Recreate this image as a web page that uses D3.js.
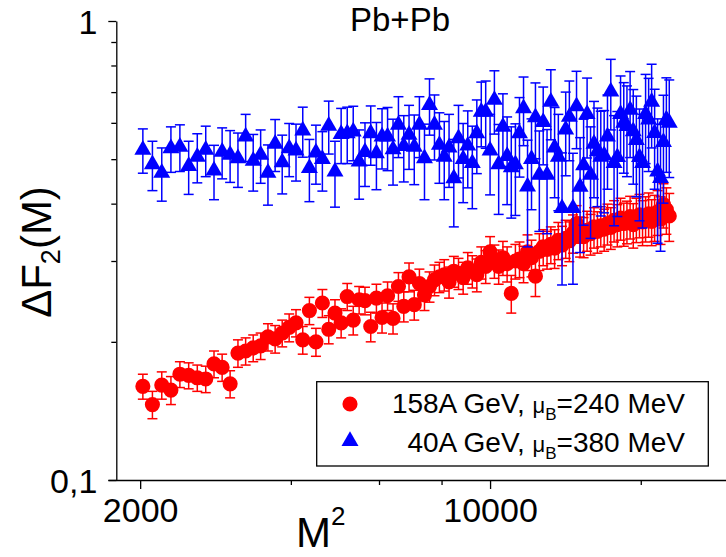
<!DOCTYPE html>
<html><head><meta charset="utf-8">
<script src="https://cdn.jsdelivr.net/npm/d3@7"></script>
<style>
body{margin:0;background:#fff;}
svg{display:block;font-family:"Liberation Sans",Arial,sans-serif;}
</style></head>
<body>
<svg id="chart" width="726" height="557"></svg>
<script>
// ---- data ----
// bin number M (x value plotted is M^2)
const binsM = [45,46,47,48,49,50,51,52,53,54,55,56,57,58,59,60,61,62,63,64,65,66,67,68,69,70,71,72,73,74,75,76,77,78,79,80,81,82,83,84,85,86,87,88,89,90,91,92,93,94,95,96,97,98,99,100,101,102,103,104,105,106,107,108,109,110,111,112,113,114,115,116,117,118,119,120,121,122,123,124,125,126,127,128,129,130,131,132,133,134,135,136,137,138,139,140,141,142,143,144,145,146,147,148,149,150,151];
const red158 = [
0.160,0.146,0.161,0.157,0.170,0.169,0.167,0.166,0.179,0.176,
0.162,0.189,0.191,0.194,0.196,0.205,0.203,0.209,0.215,0.220,
0.202,0.234,0.200,0.243,0.213,0.231,0.220,0.251,0.223,0.247,
0.246,0.216,0.249,0.226,0.252,0.225,0.264,0.239,0.277,0.241,
0.268,0.253,0.264,0.273,0.277,0.280,0.270,0.285,0.282,0.276,
0.290,0.285,0.280,0.298,0.292,0.314,0.300,0.292,0.305,0.296,
0.255,0.300,0.303,0.296,0.314,0.305,0.278,0.315,0.322,0.318,
0.326,0.320,0.333,0.325,0.336,0.332,0.345,0.362,0.340,0.339,
0.350,0.344,0.356,0.348,0.358,0.352,0.362,0.355,0.368,0.360,
0.372,0.362,0.366,0.375,0.360,0.370,0.378,0.365,0.372,0.380,
0.366,0.374,0.384,0.370,0.398,0.388,0.376];
const red158Err = [
0.010,0.010,0.011,0.011,0.011,0.011,0.011,0.011,0.012,0.012,
0.011,0.013,0.013,0.013,0.013,0.014,0.014,0.014,0.015,0.015,
0.014,0.016,0.014,0.017,0.015,0.016,0.016,0.017,0.016,0.017,
0.017,0.016,0.018,0.017,0.018,0.017,0.019,0.018,0.020,0.018,
0.020,0.019,0.020,0.021,0.021,0.022,0.021,0.022,0.022,0.022,
0.023,0.023,0.023,0.024,0.024,0.025,0.025,0.025,0.026,0.026,
0.024,0.026,0.027,0.027,0.028,0.028,0.027,0.029,0.029,0.030,
0.030,0.031,0.031,0.032,0.032,0.033,0.033,0.034,0.034,0.034,
0.035,0.035,0.036,0.036,0.036,0.037,0.037,0.037,0.038,0.038,
0.039,0.039,0.039,0.040,0.040,0.041,0.041,0.041,0.042,0.042,
0.042,0.043,0.043,0.044,0.044,0.045,0.045];
const blue40 = [
0.524,0.487,0.467,0.528,0.532,0.483,0.506,0.524,0.472,0.519,
0.511,0.502,0.560,0.496,0.511,0.467,0.540,0.492,0.528,0.522,
0.577,0.478,0.517,0.500,0.591,0.470,0.567,0.569,0.574,0.494,
0.518,0.569,0.515,0.560,0.560,0.525,0.594,0.534,0.565,0.532,
0.594,0.502,0.656,0.594,0.537,0.506,0.530,0.454,0.555,0.500,
0.535,0.490,0.569,0.634,0.634,0.522,0.673,0.487,0.588,0.508,
0.480,0.487,0.569,0.645,0.436,0.500,0.617,0.462,0.602,0.462,
0.667,0.530,0.506,0.391,0.580,0.618,0.391,0.652,0.435,0.485,
0.627,0.462,0.540,0.520,0.506,0.510,0.560,0.702,0.490,0.505,
0.627,0.600,0.590,0.640,0.575,0.550,0.505,0.490,0.627,0.610,
0.667,0.570,0.470,0.455,0.545,0.610,0.600];
const blue40Err = [
0.058,0.060,0.062,0.060,0.062,0.064,0.062,0.066,0.064,0.066,
0.066,0.068,0.066,0.070,0.068,0.070,0.070,0.072,0.070,0.074,
0.072,0.074,0.076,0.074,0.078,0.077,0.078,0.080,0.078,0.085,
0.082,0.084,0.086,0.084,0.088,0.086,0.090,0.088,0.090,0.092,
0.090,0.094,0.092,0.096,0.094,0.098,0.096,0.098,0.100,0.098,
0.102,0.100,0.104,0.102,0.106,0.104,0.106,0.108,0.106,0.110,
0.108,0.110,0.112,0.110,0.114,0.112,0.116,0.114,0.116,0.118,
0.116,0.118,0.120,0.125,0.120,0.122,0.124,0.125,0.122,0.126,
0.124,0.126,0.128,0.126,0.130,0.128,0.130,0.123,0.132,0.130,
0.132,0.134,0.132,0.136,0.134,0.136,0.138,0.136,0.138,0.140,
0.138,0.140,0.142,0.140,0.144,0.142,0.144];
const xMajorTicks = [2000, 10000];
const xMajorLabels = ["2000", "10000"];
const xMinorTicks = [4000, 6000, 8000, 20000];
const yMajorTicks = [0.1, 1];
const yMajorLabels = ["0,1", "1"];
const yMinorTicks = [0.2, 0.3, 0.4, 0.5, 0.6, 0.7, 0.8, 0.9];
const legendLabels = [
  {pre: "158A GeV, ", sub: "B", post: "=240 MeV"},
  {pre: "40A GeV, ", sub: "B", post: "=380 MeV"}
];
const titleText = "Pb+Pb";

// ---- scales ----
const svg = d3.select("#chart");
const x = d3.scaleLog().domain([1725, 29600]).range([108, 726]);
const y = d3.scaleLog().domain([0.1, 1]).range([480, 21]);
const axisX0 = 116.3;

const redData = binsM.map((m, i) => ({x: m * m, v: red158[i], e: red158Err[i]}));
const blueData = binsM.map((m, i) => ({x: m * m, v: blue40[i], e: blue40Err[i]}));

// ---- axes ----
const gx = svg.append("g").attr("transform", "translate(0,480)");
gx.call(d3.axisBottom(x).tickValues(xMinorTicks).tickSize(5).tickSizeOuter(0).tickFormat(""));
const gx2 = svg.append("g").attr("transform", "translate(0,480)");
gx2.call(d3.axisBottom(x).tickValues(xMajorTicks).tickSize(9).tickSizeOuter(0)
  .tickFormat((d, i) => xMajorLabels[i]));
gx2.select(".domain").remove();
[gx, gx2].forEach(g => {
  g.selectAll("path,line").attr("stroke", "#000").attr("stroke-width", 1.3);
});
gx2.selectAll("text").attr("font-size", 34).attr("font-family", "Liberation Sans, Arial, sans-serif")
  .attr("fill", "#000").attr("dy", null).attr("y", 42);

const gy = svg.append("g").attr("transform", `translate(${axisX0},0)`);
gy.call(d3.axisLeft(y).tickValues(yMinorTicks).tickSize(5).tickSizeOuter(0).tickFormat(""));
const gy2 = svg.append("g").attr("transform", `translate(${axisX0},0)`);
gy2.call(d3.axisLeft(y).tickValues(yMajorTicks).tickSize(8).tickSizeOuter(0)
  .tickFormat((d, i) => yMajorLabels[i]));
gy2.select(".domain").remove();
[gy, gy2].forEach(g => {
  g.selectAll("path,line").attr("stroke", "#000").attr("stroke-width", 1.3);
});
gy2.selectAll("text").attr("font-size", 34).attr("font-family", "Liberation Sans, Arial, sans-serif")
  .attr("fill", "#000").attr("x", -19).attr("dy", null).attr("y", 12);

// ---- error bars + markers ----
function drawSeries(data, color, marker) {
  const g = svg.append("g");
  const eb = g.selectAll("g.eb").data(data).join("g").attr("class", "eb")
    .attr("stroke", color).attr("stroke-width", 1.5).attr("fill", "none");
  eb.append("line")
    .attr("x1", d => x(d.x)).attr("x2", d => x(d.x))
    .attr("y1", d => y(d.v + d.e)).attr("y2", d => y(Math.max(d.v - d.e, 0.1001)));
  eb.append("line")
    .attr("x1", d => x(d.x) - 5).attr("x2", d => x(d.x) + 5)
    .attr("y1", d => y(d.v + d.e)).attr("y2", d => y(d.v + d.e));
  eb.append("line")
    .attr("x1", d => x(d.x) - 5).attr("x2", d => x(d.x) + 5)
    .attr("y1", d => y(d.v - d.e)).attr("y2", d => y(d.v - d.e));
  g.selectAll("path.mk").data(data).join("path").attr("class", "mk")
    .attr("d", marker)
    .attr("transform", d => `translate(${x(d.x)},${y(d.v)})`)
    .attr("fill", color);
}
const circleSym = d3.symbol().type(d3.symbolCircle).size(180)();
const triSym = d3.symbol().type(d3.symbolTriangle).size(125)();
drawSeries(redData, "#ff0000", circleSym);
drawSeries(blueData, "#0000ff", triSym);

// ---- title ----
svg.append("text").attr("x", 400).attr("y", 31).attr("text-anchor", "middle")
  .attr("font-size", 33).attr("fill", "#000").text(titleText);

// ---- axis titles ----
const xt = svg.append("text").attr("x", 296).attr("y", 547).attr("font-size", 42).attr("fill", "#000");
xt.append("tspan").text("M");
xt.append("tspan").attr("font-size", 26).attr("dy", -22).text("2");

const yt = svg.append("text").attr("transform", "translate(51,252) rotate(-90)")
  .attr("text-anchor", "middle").attr("font-size", 42).attr("fill", "#000");
yt.append("tspan").text("ΔF");
yt.append("tspan").attr("font-size", 27).attr("dy", 9).text("2");
yt.append("tspan").attr("dy", -9).text("(M)");

// ---- legend ----
const lg = svg.append("g");
lg.append("rect").attr("x", 316.7).attr("y", 381.7).attr("width", 391.6).attr("height", 84.3)
  .attr("fill", "#fff").attr("stroke", "#000").attr("stroke-width", 1.3);
lg.append("path").attr("d", circleSym).attr("transform", "translate(350,404)").attr("fill", "#ff0000");
lg.append("path").attr("d", triSym).attr("transform", "translate(350,441)").attr("fill", "#0000ff");
[413, 451.5].forEach((yy, i) => {
  const t = lg.append("text").attr("x", 685).attr("y", yy).attr("text-anchor", "end")
    .attr("font-size", 28).attr("fill", "#000");
  t.append("tspan").text(legendLabels[i].pre);
  t.append("tspan").attr("font-size", 22).text("μ");
  t.append("tspan").attr("font-size", 17).attr("dy", 7).text(legendLabels[i].sub);
  t.append("tspan").attr("dy", -7).text(legendLabels[i].post);
});
</script>
</body></html>
